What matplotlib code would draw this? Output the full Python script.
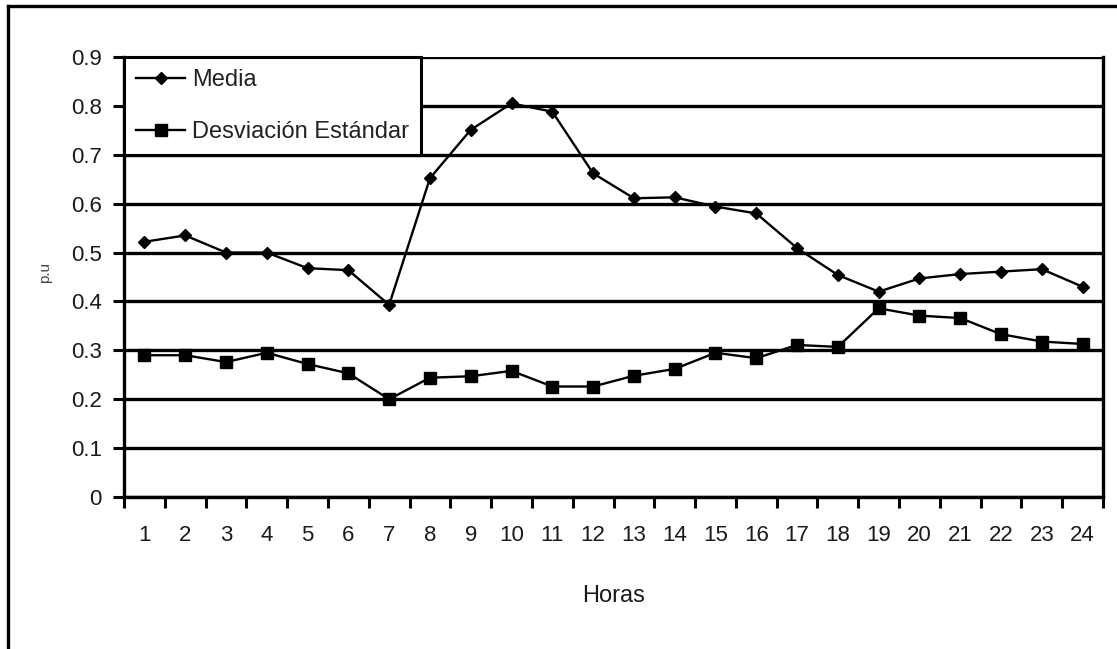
import matplotlib
matplotlib.use('Agg')
import matplotlib.pyplot as plt
from matplotlib.lines import Line2D

plt.rcParams['font.family'] = ['Liberation Sans Narrow', 'Liberation Sans', 'DejaVu Sans']

# perfil horario (p.u)
horas = list(range(1, 25))
media = [0.522, 0.535, 0.500, 0.500, 0.468, 0.464, 0.393, 0.652, 0.751, 0.805, 0.788, 0.662,
         0.611, 0.613, 0.594, 0.580, 0.509, 0.454, 0.420, 0.447, 0.456, 0.461, 0.466, 0.430]
desviacion = [0.290, 0.290, 0.276, 0.295, 0.272, 0.253, 0.200, 0.244, 0.247, 0.258, 0.226, 0.226,
              0.248, 0.262, 0.295, 0.284, 0.311, 0.307, 0.386, 0.371, 0.366, 0.333, 0.318, 0.313]
y_ticks = [0, 0.1, 0.2, 0.3, 0.4, 0.5, 0.6, 0.7, 0.8, 0.9]

fig = plt.figure(figsize=(11.17, 6.49), dpi=100)
ax = fig.add_axes([0.111, 0.2342, 0.8765, 0.678])

# marco exterior (solo arriba e izquierda)
fig.add_artist(Line2D([8 / 1117, 1.0], [1 - 6 / 649, 1 - 6 / 649], color='black', lw=2.4,
                      transform=fig.transFigure))
fig.add_artist(Line2D([8 / 1117, 8 / 1117], [0, 1 - 6 / 649], color='black', lw=2.4,
                      transform=fig.transFigure))

ax.plot(horas, media, color='black', lw=1.7, marker='D', markersize=6.5,
        label='Media', zorder=4)
ax.plot(horas, desviacion, color='black', lw=1.7, marker='s', markersize=9,
        label='Desviación Estándar', zorder=4)

ax.set_xlim(0.5, 24.5)
ax.set_ylim(0, 0.9)
ax.set_yticks(y_ticks)
ax.set_yticklabels([f'{v:g}' for v in y_ticks])
ax.yaxis.grid(True, color='black', lw=2.4)
ax.set_axisbelow(True)

# marcas en los limites de cada hora, etiquetas en el centro
ax.set_xticks([h - 0.5 for h in horas] + [24.5])
ax.set_xticklabels([])
ax.set_xticks(horas, minor=True)
ax.set_xticklabels([str(h) for h in horas], minor=True)
ax.tick_params(axis='x', which='major', length=8, width=2.2, direction='out')
ax.tick_params(axis='x', which='minor', length=0, pad=20, labelsize=16, labelcolor='#1a1a1a')
ax.tick_params(axis='y', length=8, width=2.2, pad=8, labelsize=16, labelcolor='#1a1a1a')

for side in ['left', 'bottom', 'right']:
    ax.spines[side].set_linewidth(2.4)
ax.spines['top'].set_visible(False)

ax.set_xlabel('Horas', fontsize=17, color='#1a1a1a', labelpad=28)
fig.text(45 / 1117, 1 - 272 / 649, 'p.u', rotation=90, fontsize=11, color='#444444',
         ha='center', va='center')

leg = ax.legend(loc='upper left', bbox_to_anchor=(0, 1), borderaxespad=0, fontsize=17,
                frameon=True, fancybox=False, edgecolor='black', framealpha=1,
                handlelength=2.1, handletextpad=0.3, labelspacing=1.3, borderpad=0.5)
leg.get_frame().set_linewidth(2.2)
for t in leg.get_texts():
    t.set_color('#222222')

fig.savefig('out.png', dpi=100)
